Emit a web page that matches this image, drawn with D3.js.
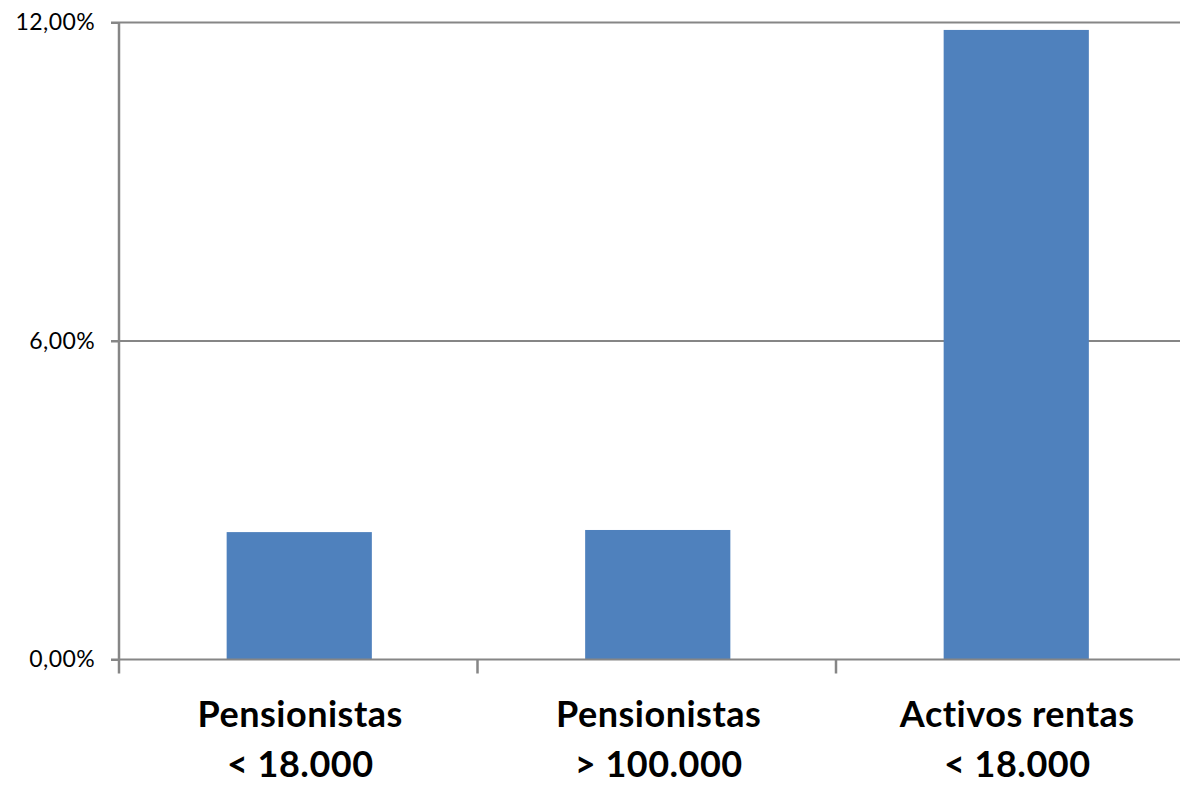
<!DOCTYPE html>
<html>
<head>
<meta charset="utf-8">
<script src="https://cdn.jsdelivr.net/npm/d3@7"></script>
<style>
    html, body { margin: 0; padding: 0; background: #fff; }
    svg { display: block; }
</style>
</head>
<body>
<div id="chart"></div>
<script>
(function () {
    'use strict';

    // chart data
    var categories = [
        ['Pensionistas', '< 18.000'],
        ['Pensionistas', '> 100.000'],
        ['Activos rentas', '< 18.000']
    ];
    var values = [2.40, 2.44, 11.86];        // percent
    var yTicks = [0, 6, 12];

    var w = 1180,
        h = 785;

    var left = 119, right = 1194.5,   // plot runs a bit past the window
        top = 22.5, bottom = 659.5;

    var axisColor = '#868686',
        barColor = '#4f81bd';

    var svg = d3.select('#chart')
        .append('svg')
        .attr('width', w)
        .attr('height', h);

    var x = d3.scaleBand()
        .domain(d3.range(categories.length))
        .range([left, right]);

    var y = d3.scaleLinear()
        .domain([0, 12])
        .range([bottom, top]);

    var fmt = function (d) { return d3.format('.2f')(d).replace('.', ',') + '%'; };

    // horizontal gridlines (12% and 6%)
    svg.append('g')
        .selectAll('line')
        .data(yTicks.filter(function (d) { return d > 0; }))
        .enter().append('line')
        .attr('x1', left - 8)
        .attr('x2', w)
        .attr('y1', function (d) { return y(d); })
        .attr('y2', function (d) { return y(d); })
        .attr('stroke', axisColor)
        .attr('stroke-width', 2);

    // bars
    var barW = x.bandwidth() * 0.405;
    svg.append('g')
        .selectAll('rect')
        .data(values)
        .enter().append('rect')
        .attr('x', function (d, i) { return x(i) + (x.bandwidth() - barW) / 2 + 1; })
        .attr('y', function (d) { return y(d); })
        .attr('width', barW)
        .attr('height', function (d) { return y(0) - y(d); })
        .attr('fill', barColor);

    // y axis
    var yAxis = svg.append('g')
        .attr('transform', 'translate(' + left + ',0)')
        .call(d3.axisLeft(y).tickValues(yTicks).tickSize(8).tickPadding(16).tickFormat(fmt));
    yAxis.select('.domain').attr('stroke', axisColor).attr('stroke-width', 2.5)
        .attr('d', 'M0,' + top + 'V' + (bottom + 14));
    yAxis.selectAll('.tick line').attr('stroke', axisColor).attr('stroke-width', 2);
    yAxis.selectAll('.tick text')
        .style('font-family', 'Lato, sans-serif')
        .style('font-size', '23px')
        .style('letter-spacing', '0.4px')
        .attr('fill', '#000');

    // x axis
    var xAxis = svg.append('g')
        .attr('transform', 'translate(0,' + bottom + ')');
    xAxis.append('line')
        .attr('x1', left - 8)
        .attr('x2', w)
        .attr('stroke', axisColor)
        .attr('stroke-width', 2);
    xAxis.selectAll('.xtick')
        .data(d3.range(1, categories.length))
        .enter().append('line')
        .attr('class', 'xtick')
        .attr('x1', function (d) { return x(d); })
        .attr('x2', function (d) { return x(d); })
        .attr('y1', 0)
        .attr('y2', 14)
        .attr('stroke', axisColor)
        .attr('stroke-width', 2.5);

    var label = svg.append('g')
        .selectAll('text')
        .data(categories)
        .enter().append('text')
        .attr('text-anchor', 'middle')
        .style('font-family', 'Lato, sans-serif')
        .style('font-weight', 'bold')
        .style('font-size', '36px')
        .style('letter-spacing', '0.5px')
        .attr('fill', '#000');

    label.each(function (d, i) {
        var t = d3.select(this);
        d.forEach(function (line, k) {
            t.append('tspan')
                .attr('x', x(i) + x.bandwidth() / 2 + 2)
                .attr('y', 727 + k * 50)
                .text(line);
        });
    });
})();
</script>
</body>
</html>
